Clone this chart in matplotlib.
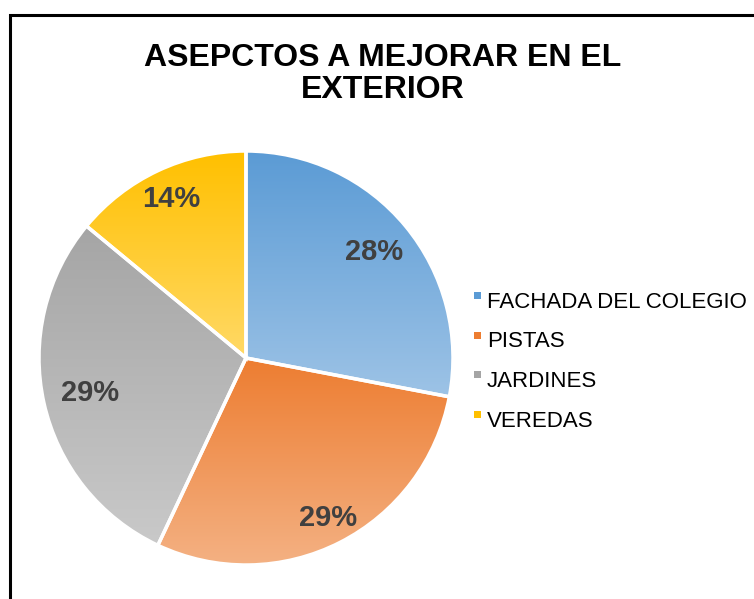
import numpy as np
import matplotlib.pyplot as plt
from matplotlib.colors import LinearSegmentedColormap
from matplotlib.patches import Rectangle

plt.rcParams['font.family'] = ['Liberation Sans', 'DejaVu Sans']

labels = ['FACHADA DEL COLEGIO', 'PISTAS', 'JARDINES', 'VEREDAS']
values = [28, 29, 29, 14]
top_colors = ['#5B9BD5', '#ED7D31', '#A5A5A5', '#FFC000']
bottom_colors = ['#9DC3E6', '#F4B183', '#C9C9C9', '#FFD966']
title = 'ASEPCTOS A MEJORAR EN EL\nEXTERIOR'
# how far from the centre each percentage sits (fraction of radius)
label_dist = [0.80, 0.87, 0.77, 0.85]

fig = plt.figure(figsize=(7.54, 5.99), dpi=100)

# outer chart frame
fig.patches.append(Rectangle((10 / 754, -0.05), 1.0, 1 - 15 / 599 + 0.05,
                             transform=fig.transFigure, fill=False,
                             edgecolor='black', linewidth=2.2))

fig.text(383 / 754, 1 - 74 / 599, title, ha='center', va='center',
         fontsize=23, fontweight='bold', linespacing=1.13)

ax = fig.add_axes([39 / 754, 34 / 599, 414 / 754, 414 / 599])
wedges, texts, autotexts = ax.pie(
    values, startangle=90, counterclock=False, radius=1.0,
    colors=top_colors, autopct='%d%%', pctdistance=0.82,
    wedgeprops=dict(edgecolor='white', linewidth=2.5),
    textprops=dict(fontsize=21, fontweight='bold', color='#404040'))

# vertical gradient fill inside each wedge
for w, c0, c1 in zip(wedges, top_colors, bottom_colors):
    verts = w.get_path().vertices
    verts = w.get_patch_transform().transform(verts)
    x0, x1 = verts[:, 0].min(), verts[:, 0].max()
    y0, y1 = verts[:, 1].min(), verts[:, 1].max()
    cmap = LinearSegmentedColormap.from_list('g', [c1, c0])
    grad = np.linspace(0, 1, 256).reshape(-1, 1)
    im = ax.imshow(grad, cmap=cmap, origin='lower', aspect='auto',
                   extent=[x0, x1, y0, y1], zorder=w.get_zorder() - 0.1)
    im.set_clip_path(w)
    w.set_facecolor('none')
    w.set_zorder(w.get_zorder() + 0.2)

for w, t, d in zip(wedges, autotexts, label_dist):
    ang = np.deg2rad((w.theta1 + w.theta2) / 2)
    t.set_position((d * np.cos(ang), d * np.sin(ang)))
    t.set_zorder(5)

ax.set_xlim(-1.0, 1.0)
ax.set_ylim(-1.0, 1.0)
ax.set_aspect('equal')
ax.axis('off')

# legend entries
for i, (lab, c) in enumerate(zip(labels, top_colors)):
    y = 1 - (302 + i * 39.7) / 599
    fig.patches.append(Rectangle((474 / 754, y + 3 / 599), 7 / 754, 7 / 599,
                                 transform=fig.transFigure, color=c,
                                 linewidth=0))
    fig.text(487 / 754, y, lab, ha='left', va='center', fontsize=16,
             color='black')

fig.savefig('out.png', dpi=100)
